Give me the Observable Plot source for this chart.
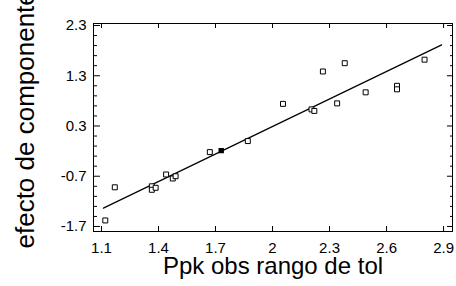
<!DOCTYPE html>
<html><head><meta charset="utf-8">
<script src="https://cdn.jsdelivr.net/npm/d3@7"></script>
<script src="https://cdn.jsdelivr.net/npm/@observablehq/plot@0.6"></script>
<style>html,body{margin:0;padding:0;background:#fff}svg{display:block}</style>
</head><body><div id="chart"></div>
<script>
// observed points (open squares)
const obsX = [1.12, 1.17, 1.365, 1.365, 1.385, 1.44, 1.475, 1.49, 1.67, 1.87, 2.055, 2.205, 2.22, 2.265, 2.34, 2.38, 2.49, 2.655, 2.655, 2.80];
const obsY = [-1.58, -0.92, -0.90, -0.97, -0.93, -0.665, -0.745, -0.70, -0.22, 0.0, 0.74, 0.63, 0.60, 1.385, 0.75, 1.55, 0.97, 1.10, 1.03, 1.62];
// highlighted point (filled)
const markX = [1.73];
const markY = [-0.19];
// fitted line
const fitX = [1.11, 2.89];
const fitY = [-1.335, 1.915];
// axes
const xDomain = [1.058, 2.947];
const yDomain = [-1.80, 2.34];
const xTicks = [1.1, 1.4, 1.7, 2.0, 2.3, 2.6, 2.9];
const xTickLabels = ["1.1", "1.4", "1.7", "2", "2.3", "2.6", "2.9"];
const yTicks = [-1.7, -0.7, 0.3, 1.3, 2.3];
const yTickLabels = ["-1.7", "-0.7", "0.3", "1.3", "2.3"];
const yMinorTicks = [-1.5, -1.3, -1.1, -0.9, -0.5, -0.3, -0.1, 0.1, 0.5, 0.7, 0.9, 1.1, 1.5, 1.7, 1.9, 2.1];
const xTitle = "Ppk obs rango de tol";
const yTitle = "efecto de componente";

const tickOnly = {fill: "none", label: null, stroke: "#000"};
const chart = Plot.plot({
  width: 456,
  height: 286,
  marginLeft: 93,
  marginRight: 4,
  marginTop: 23,
  marginBottom: 55,
  style: {fontFamily: "'Liberation Sans', Arial, sans-serif", background: "#fff", color: "#000", overflow: "visible"},
  x: {domain: xDomain},
  y: {domain: yDomain},
  marks: [
    Plot.frame({stroke: "#000", strokeWidth: 1}),
    Plot.axisY({anchor: "left", ticks: yMinorTicks, tickSize: -4, ...tickOnly}),
    Plot.axisY({anchor: "left", ticks: yTicks, tickSize: -7, ...tickOnly}),
    Plot.axisY({anchor: "right", ticks: yMinorTicks, tickSize: -3, ...tickOnly}),
    Plot.axisY({anchor: "right", ticks: yTicks, tickSize: -6, ...tickOnly}),
    Plot.axisX({anchor: "bottom", ticks: xTicks, tickSize: -5, ...tickOnly}),
    Plot.axisX({anchor: "top", ticks: xTicks, tickSize: -4, ...tickOnly}),
    Plot.axisY({anchor: "left", ticks: yTicks, tickSize: 0, tickPadding: 7, fontSize: 15, label: null, fill: "#000",
      tickFormat: d => yTickLabels[yTicks.indexOf(d)]}),
    Plot.axisX({anchor: "bottom", ticks: xTicks, tickSize: 0, tickPadding: 11, fontSize: 15, label: null, fill: "#000",
      tickFormat: d => xTickLabels[xTicks.indexOf(d)]}),
    Plot.line(fitX, {x: fitX, y: fitY, stroke: "#000", strokeWidth: 1.2}),
    Plot.dot(obsX, {x: obsX, y: obsY, symbol: "square", r: 2.8, stroke: "#000", strokeWidth: 1, fill: "#fff"}),
    Plot.dot(markX, {x: markX, y: markY, symbol: "square", r: 2.2, fill: "#000", stroke: "#000"}),
    Plot.text([xTitle], {frameAnchor: "bottom", dy: 42, lineAnchor: "bottom", fontSize: 24, fill: "#000"}),
    Plot.text([yTitle], {frameAnchor: "left", dx: -60, dy: 121, rotate: -90, textAnchor: "start", lineAnchor: "bottom", fontSize: 26, fill: "#000"})
  ]
});
document.getElementById("chart").appendChild(chart);
</script></body></html>
